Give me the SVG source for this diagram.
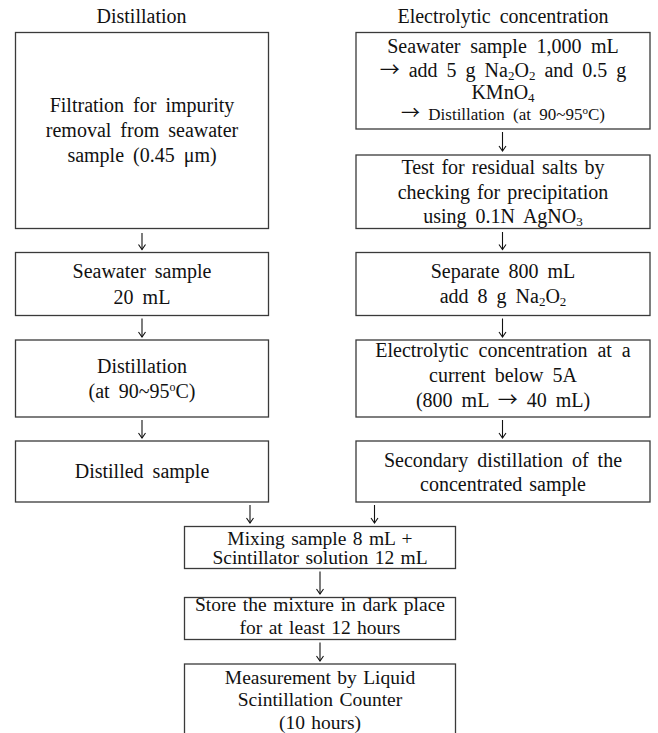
<svg xmlns="http://www.w3.org/2000/svg" width="658" height="733" viewBox="0 0 658 733">
<style>
.box{fill:#fff;stroke:#3a3a3a;stroke-width:1.3}
text{font-family:"Liberation Serif","Times New Roman",serif;font-size:20px;fill:#111;text-anchor:middle;word-spacing:4px}
.sm{font-size:17px}
.bt{font-size:19.5px;word-spacing:1.5px}
.sub{font-size:13px;baseline-shift:-3px}
.sup{font-size:12px;baseline-shift:7px}
.ar{font-family:"Noto Sans CJK SC","DejaVu Sans",sans-serif}
.conn line{stroke:#111;stroke-width:1.1}
</style>
<defs>
<marker id="ah" markerUnits="userSpaceOnUse" markerWidth="10" markerHeight="10" refX="8" refY="5" orient="auto" viewBox="0 0 10 10">
<path d="M3,1.5 L8,5 L3,8.5" fill="none" stroke="#111" stroke-width="1.1"/>
</marker>
</defs>
<rect width="658" height="733" fill="#fff"/>
<text x="141.5" y="23">Distillation</text>
<text x="503" y="23">Electrolytic concentration</text>

<g id="l1"><rect class="box" x="15.5" y="32.5" width="253" height="196"/>
<text x="142" y="112">Filtration for impurity</text>
<text x="142" y="137">removal from seawater</text>
<text x="142" y="162">sample (0.45 μm)</text></g>
<g id="l2"><rect class="box" x="15.5" y="252.5" width="253" height="63"/>
<text x="142" y="278">Seawater sample</text>
<text x="142" y="304">20 mL</text></g>
<g id="l3"><rect class="box" x="15.5" y="340" width="253" height="77"/>
<text x="142" y="373">Distillation</text>
<text x="142" y="398">(at 90~95<tspan class="sup">o</tspan>C)</text></g>
<g id="l4"><rect class="box" x="15.5" y="441" width="253" height="61"/>
<text x="142" y="478">Distilled sample</text></g>

<g id="r1"><rect class="box" x="356" y="32.5" width="294" height="96.5"/>
<text x="503" y="53" style="word-spacing:4.6px">Seawater sample 1,000 mL</text>
<text x="503" y="76.5"><tspan class="ar">→</tspan> add 5 g Na<tspan class="sub">2</tspan>O<tspan class="sub">2</tspan> and 0.5 g</text>
<text x="503" y="99">KMnO<tspan class="sub">4</tspan></text>
<text x="503" y="120" class="sm"><tspan class="ar" style="font-size:19px">→</tspan> Distillation (at 90~95<tspan class="sup" style="font-size:11px;baseline-shift:6px">o</tspan>C)</text></g>
<g id="r2"><rect class="box" x="356" y="155" width="294" height="73.5"/>
<text x="503" y="174" style="word-spacing:2px">Test for residual salts by</text>
<text x="503" y="198.5" style="word-spacing:2px">checking for precipitation</text>
<text x="503" y="222.5">using 0.1N AgNO<tspan class="sub">3</tspan></text></g>
<g id="r3"><rect class="box" x="356" y="252.5" width="294" height="63"/>
<text x="503" y="278">Separate 800 mL</text>
<text x="503" y="303">add 8 g Na<tspan class="sub">2</tspan>O<tspan class="sub">2</tspan></text></g>
<g id="r4"><rect class="box" x="356" y="340" width="294" height="77"/>
<text x="503" y="357" style="word-spacing:5px">Electrolytic concentration at a</text>
<text x="503" y="382">current below 5A</text>
<text x="503" y="406.5">(800 mL <tspan class="ar">→</tspan> 40 mL)</text></g>
<g id="r5"><rect class="box" x="356" y="441" width="294" height="61"/>
<text x="503" y="467">Secondary distillation of the</text>
<text x="503" y="491" style="word-spacing:2px">concentrated sample</text></g>

<g id="b1"><rect class="box" x="184.5" y="526.5" width="271" height="42"/>
<text class="bt" x="320" y="544.5">Mixing sample 8 mL +</text>
<text class="bt" x="320" y="564">Scintillator solution 12 mL</text></g>
<g id="b2"><rect class="box" x="184.5" y="597.5" width="271" height="42"/>
<text class="bt" x="320" y="611" style="word-spacing:1.8px">Store the mixture in dark place</text>
<text class="bt" x="320" y="633.5">for at least 12 hours</text></g>
<g id="b3"><rect class="box" x="184.5" y="664" width="271" height="80"/>
<text class="bt" x="320" y="683.5">Measurement by Liquid</text>
<text class="bt" x="320" y="705.5">Scintillation Counter</text>
<text class="bt" x="320" y="728.5">(10 hours)</text></g>

<g class="conn" id="connectors">
<line x1="142" y1="233" x2="142" y2="249.5" marker-end="url(#ah)"/>
<line x1="142" y1="318.5" x2="142" y2="337" marker-end="url(#ah)"/>
<line x1="142" y1="420" x2="142" y2="438" marker-end="url(#ah)"/>
<line x1="502.5" y1="132" x2="502.5" y2="151" marker-end="url(#ah)"/>
<line x1="502.5" y1="232" x2="502.5" y2="249.5" marker-end="url(#ah)"/>
<line x1="502.5" y1="318.5" x2="502.5" y2="337" marker-end="url(#ah)"/>
<line x1="502.5" y1="420" x2="502.5" y2="438" marker-end="url(#ah)"/>
<line x1="250" y1="505" x2="250" y2="523" marker-end="url(#ah)"/>
<line x1="374.5" y1="505" x2="374.5" y2="523" marker-end="url(#ah)"/>
<line x1="320" y1="571.5" x2="320" y2="594" marker-end="url(#ah)"/>
<line x1="320" y1="642.5" x2="320" y2="661" marker-end="url(#ah)"/>
</g>
</svg>
